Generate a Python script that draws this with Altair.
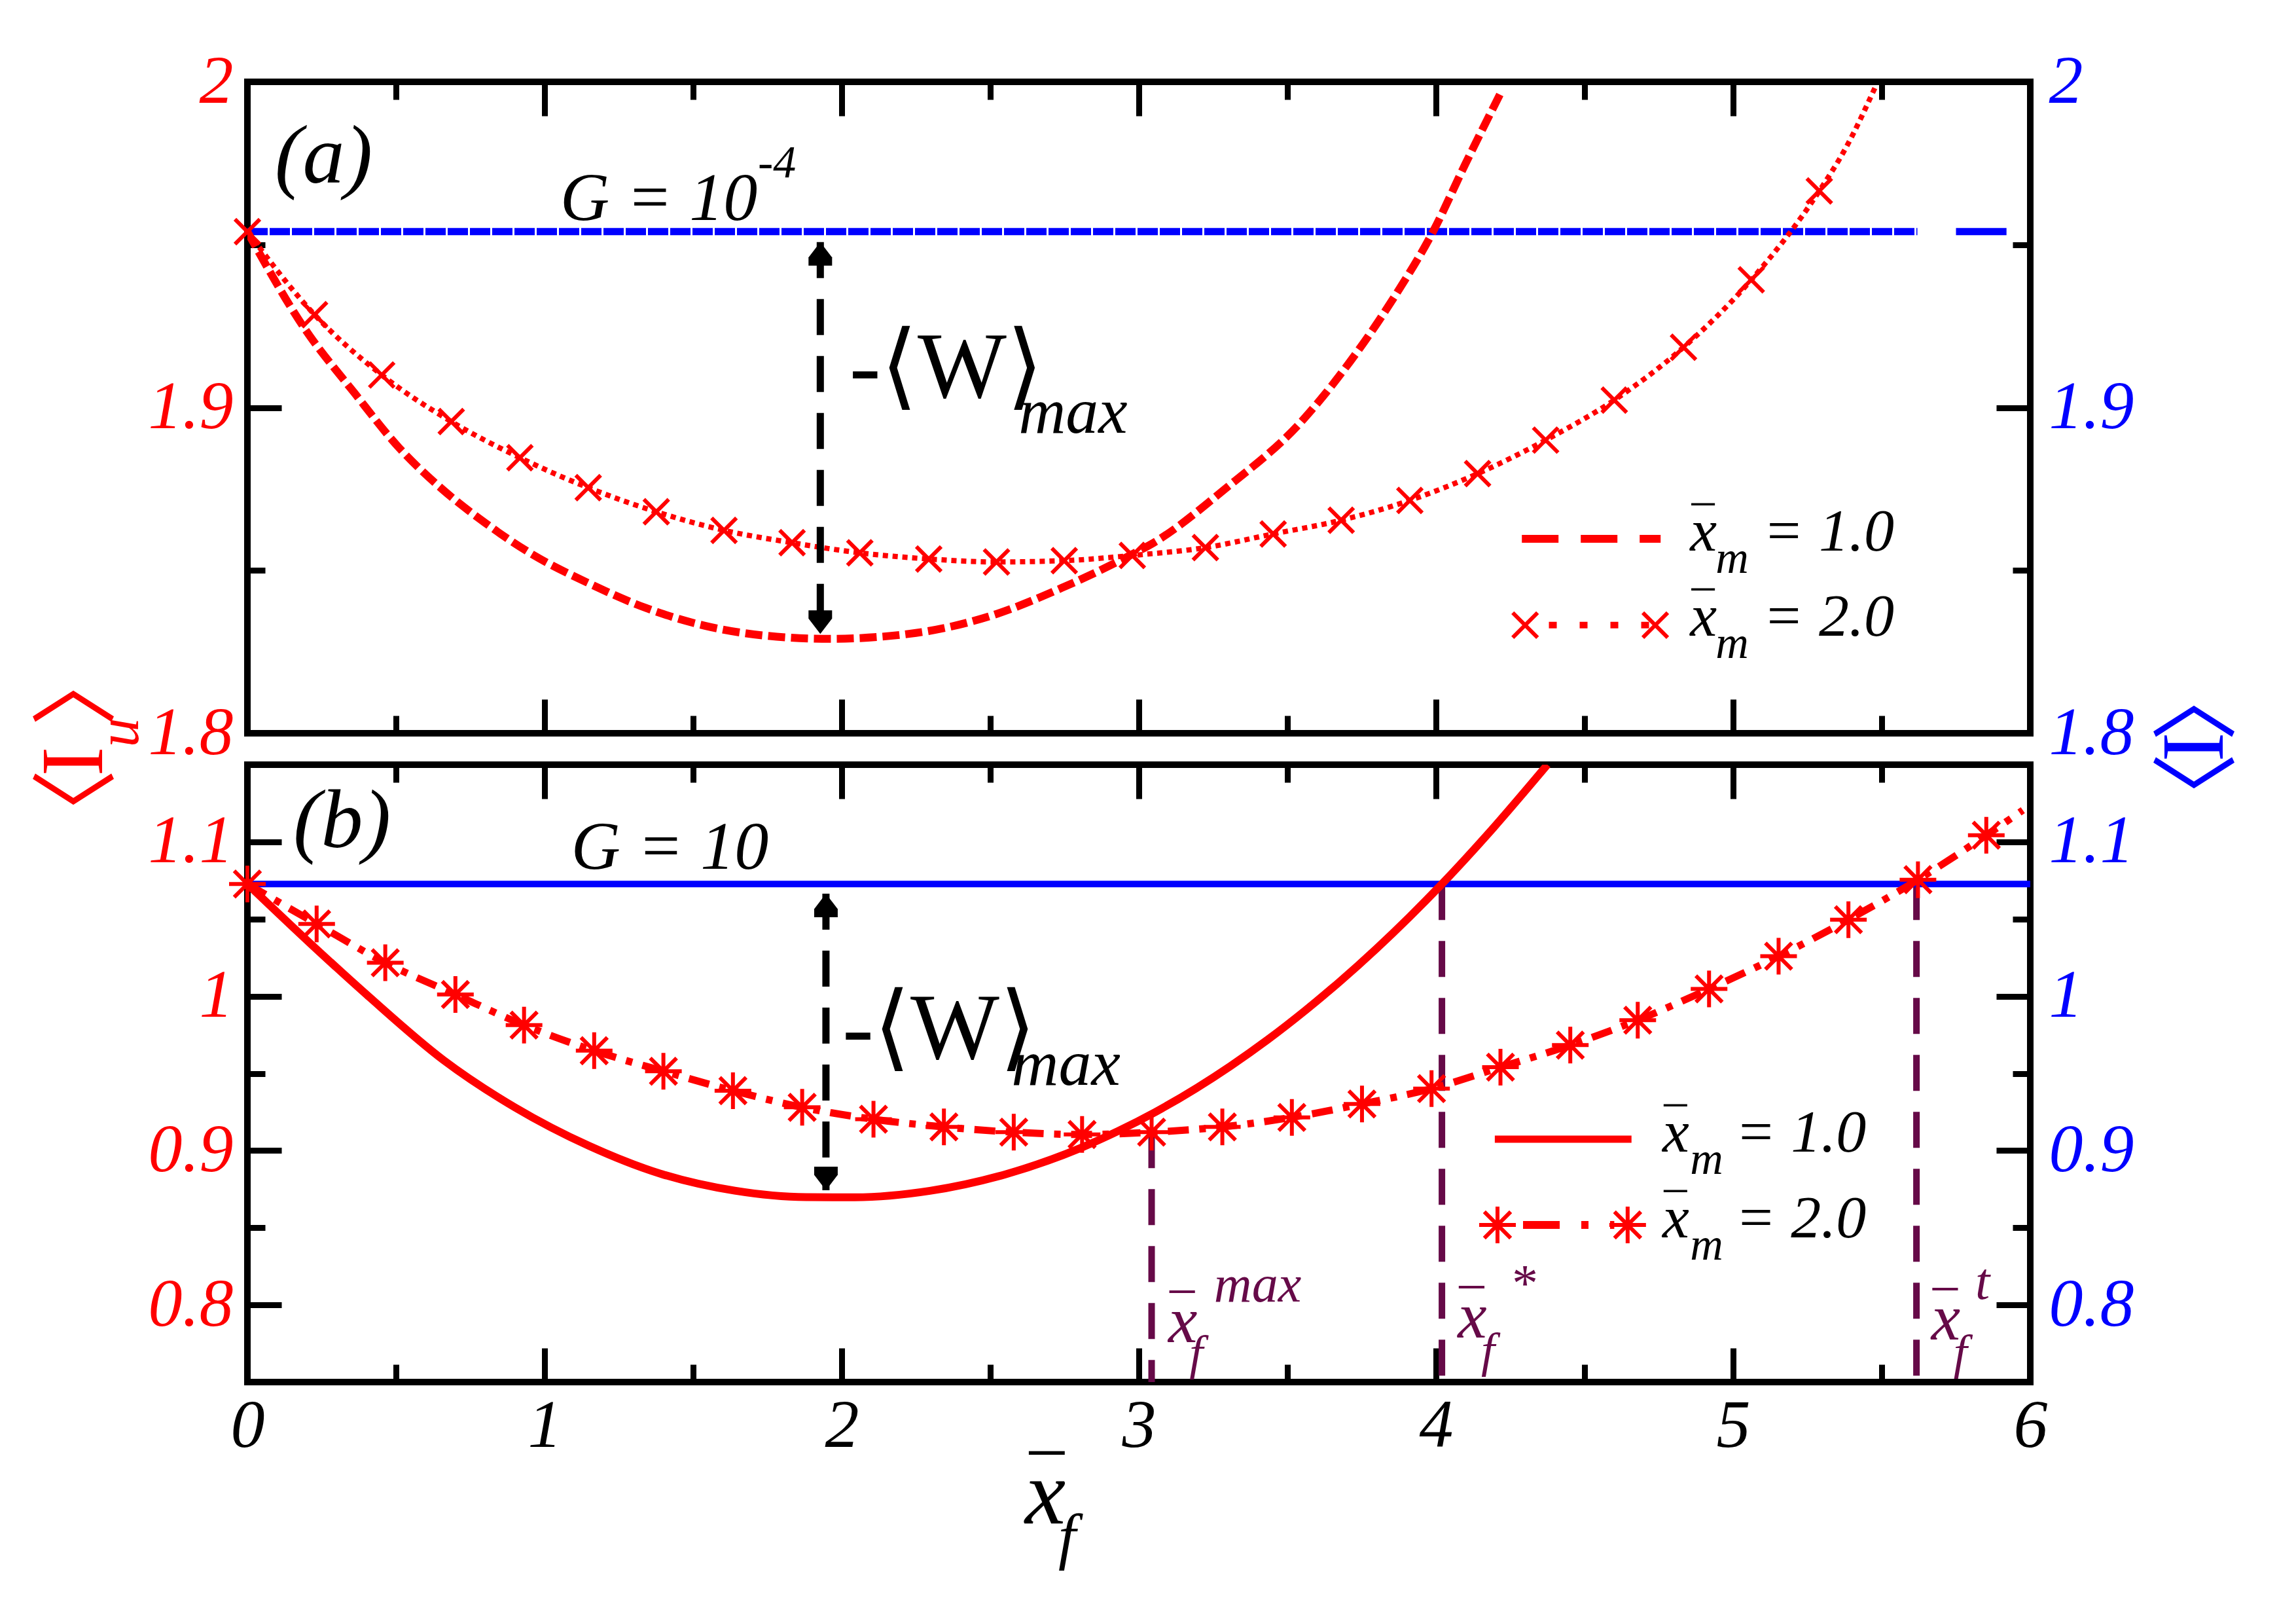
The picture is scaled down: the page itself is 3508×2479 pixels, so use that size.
import altair as alt
import pandas as pd

# ---------------- values ----------------
X_MAJOR = [0, 1, 2, 3, 4, 5, 6]
X_MINOR = [0.5, 1.5, 2.5, 3.5, 4.5, 5.5]

# panel (a)  G = 10^-4
A_Y_MAJOR = [1.8, 1.9, 2.0]
A_Y_MINOR = [1.85, 1.95]
A_I = 1.954
A_BLUE_SEG = [[0.0, 5.62], [5.75, 5.92]]
A_XM1_X = [0.00, 0.19, 0.36, 0.51, 0.66, 0.80, 0.95, 1.15, 1.34, 1.54, 1.74, 1.96,
           2.25, 2.50, 2.74, 2.97, 3.05, 3.29, 3.54, 3.71, 3.86, 3.99, 4.10, 4.22]
A_XM1_Y = [1.954, 1.9246, 1.9045, 1.8877, 1.8746, 1.8646, 1.8554, 1.846, 1.8385, 1.833,
           1.830, 1.829, 1.8308, 1.836, 1.8446, 1.8546, 1.8585, 1.875, 1.895, 1.914,
           1.934, 1.954, 1.975, 1.997]
A_XM2_X = [0.000, 0.226, 0.452, 0.686, 0.917, 1.147, 1.376, 1.604, 1.833, 2.061, 2.293,
           2.521, 2.749, 2.978, 3.224, 3.452, 3.681, 3.912, 4.140, 4.369, 4.600, 4.833,
           5.061, 5.290, 5.381, 5.479]
A_XM2_Y = [1.954, 1.9285, 1.910, 1.8957, 1.8846, 1.8754, 1.868, 1.8623, 1.8585, 1.8554,
           1.8535, 1.8526, 1.853, 1.8546, 1.857, 1.8612, 1.8654, 1.8715, 1.8797, 1.890,
           1.9023, 1.9185, 1.9392, 1.9665, 1.980, 1.9985]
A_N_MARKERS = 24
A_ARROW_X = 1.928
A_ARROW_Y = [1.9508, 1.8305]

# panel (b)  G = 10
B_Y_MAJOR = [0.8, 0.9, 1.0, 1.1]
B_Y_MINOR = [0.85, 0.95, 1.05]
B_I = 1.0727
B_XM1_X = [0.00, 0.21, 0.41, 0.66, 0.90, 1.15, 1.39, 1.64, 1.88, 2.044, 2.297, 2.551,
           2.802, 2.929, 3.055, 3.308, 3.434, 3.561, 3.674, 3.80, 3.91, 4.02, 4.18, 4.375]
B_XM1_Y = [1.0727, 1.0345, 0.9995, 0.9586, 0.928, 0.903, 0.885, 0.874, 0.8698, 0.8697,
           0.8739, 0.8846, 0.9015, 0.9125, 0.9249, 0.9547, 0.9719, 0.9909, 1.0091, 1.0309,
           1.0512, 1.0727, 1.1062, 1.150]
B_XM2_X = [0.000, 0.233, 0.464, 0.700, 0.931, 1.167, 1.400, 1.634, 1.867, 2.107, 2.344,
           2.579, 2.809, 3.043, 3.281, 3.515, 3.751, 3.985, 4.217, 4.452, 4.679, 4.919,
           5.153, 5.388, 5.622, 5.852, 5.975]
B_XM2_Y = [1.0727, 1.0468, 1.0217, 1.0011, 0.9813, 0.9647, 0.9514, 0.9388, 0.928, 0.9203,
           0.9153, 0.9119, 0.9104, 0.9119, 0.9153, 0.9215, 0.9302, 0.9401, 0.954, 0.9683,
           0.9845, 1.0047, 1.0259, 1.0496, 1.0755, 1.1043, 1.1205]
B_N_MARKERS = 26
B_ARROW_X = 1.947
B_ARROW_Y = [1.0664, 0.8743]
B_XF_X = [3.043, 4.02, 5.617]
B_XF_TOP = [0.9119, 1.0727, 1.0727]
B_XF_BOTTOM = 0.75

LEGEND_LABELS = ["= 1.0", "= 2.0"]

# ---------------- styling ----------------
FONT = "'Liberation Serif', 'Times New Roman', Times, 'DejaVu Serif', serif"
BRACKET_FONT = "'Noto Sans CJK JP', 'Noto Sans CJK SC', sans-serif"
RED, BLUE, PURPLE, BLACK = "#ff0000", "#0000ff", "#660a48", "#000000"
W, HA, HB = 2724, 995, 943
DA = [1.8, 2.0]
DB = [0.75, 1.15]
XSHAPE = "M-1,-1L1,1M-1,1L1,-1"
STAR = "M0,-1L0,1M-1,0L1,0M-0.72,-0.72L0.72,0.72M-0.72,0.72L0.72,-0.72"
UP = "M0,0L1,1.3L1,2L-1,2L-1,1.3Z"
DOWN = "M0,0L1,-1.3L1,-2L-1,-2L-1,-1.3Z"
XSIZE, XSTROKE = 1444, 6


def sx():
    return alt.Scale(domain=[0, 6], nice=False, zero=False)


def sy(dom):
    return alt.Scale(domain=dom, nice=False, zero=False)


def ax(orient, values, size, labels=False, color=BLACK, pad=16):
    kw = dict(orient=orient, values=values, tickSize=size, offset=-size, domain=False,
              grid=False, ticks=True, tickColor=BLACK, tickWidth=9, labels=labels, title=None)
    if labels:
        kw.update(labelFont=FONT, labelFontSize=104, labelFontStyle="italic",
                  labelColor=color, labelPadding=pad, labelFlush=False,
                  labelOverlap=False, format="~g")
    return alt.Axis(**kw)


def X(field, axis=None):
    return alt.X(field, type="quantitative", scale=sx(), axis=axis)


def Y(field, dom, axis=None):
    return alt.Y(field, type="quantitative", scale=sy(dom), axis=axis)


def dtext(texts, xs, ys, dom, size, style="italic", color=BLACK):
    df = pd.DataFrame({"x": xs, "y": ys, "t": texts})
    return alt.Chart(df).mark_text(font=FONT, fontSize=size, fontStyle=style, color=color,
                                   align="left", baseline="alphabetic").encode(
        x=X("x"), y=Y("y", dom), text="t:N")


def ptext(text, x, y, size, style="italic", color=BLACK, angle=0, align="left", font=FONT):
    return alt.Chart(pd.DataFrame({"t": [text]})).mark_text(
        font=font, fontSize=size, fontStyle=style, color=color, align=align,
        baseline="alphabetic", angle=angle).encode(
        x=alt.value(x), y=alt.value(y), text="t:N")


def hrule(x0, x1, y, dom, color, width, dash=None):
    kw = dict(color=color, strokeWidth=width)
    if dash:
        kw["strokeDash"] = dash
    df = pd.DataFrame({"x0": [x0], "x1": [x1], "y": [y]})
    return alt.Chart(df).mark_rule(**kw).encode(x=X("x0"), x2="x1:Q", y=Y("y", dom))


def points(xs, ys, dom, shape, size, width, filled=False, color=RED):
    df = pd.DataFrame({"x": xs, "y": ys})
    return alt.Chart(df).mark_point(shape=shape, size=size, strokeWidth=width, color=color,
                                    filled=filled, opacity=1).encode(
        x=X("x"), y=Y("y", dom))


def arrow(xv, yv, dom):
    df = pd.DataFrame({"x": [xv], "y0": [yv[0]], "y1": [yv[1]]})
    shaft = alt.Chart(df).mark_rule(color=BLACK, strokeWidth=11, strokeDash=[55, 32]).encode(
        x=X("x"), y=Y("y0", dom), y2="y1:Q")
    up = points([xv], [yv[0]], dom, UP, 1296, 0, True, BLACK)
    down = points([xv], [yv[1]], dom, DOWN, 1296, 0, True, BLACK)
    return [shaft, up, down]


# ---------------- panel (a) ----------------
a_l1 = alt.Chart(pd.DataFrame({"x": A_XM1_X, "y": A_XM1_Y})).mark_line(
    color=RED, strokeWidth=12, strokeDash=[26, 9], interpolate="monotone", clip=True
).encode(x=X("x", ax("bottom", X_MAJOR, 52)),
         y=Y("y", DA, ax("left", A_Y_MAJOR, 52, True, RED, 22)))
a_l2 = alt.Chart(pd.DataFrame({"x": A_XM2_X, "y": A_XM2_Y})).mark_line(
    color=RED, strokeWidth=8, strokeDash=[8, 7], interpolate="monotone", clip=True
).encode(x=X("x", ax("bottom", X_MINOR, 27)),
         y=Y("y", DA, ax("left", A_Y_MINOR, 27)))
a_mk = alt.Chart(pd.DataFrame({"x": A_XM2_X[:A_N_MARKERS], "y": A_XM2_Y[:A_N_MARKERS]})).mark_point(
    shape=XSHAPE, size=XSIZE, strokeWidth=XSTROKE, color=RED, filled=False, opacity=1
).encode(x=X("x", ax("top", X_MAJOR, 52)),
         y=Y("y", DA, ax("right", A_Y_MAJOR, 52, True, BLUE, 28)))
a_b1 = alt.Chart(pd.DataFrame({"x0": [A_BLUE_SEG[0][0]], "x1": [A_BLUE_SEG[0][1]], "y": [A_I]})).mark_rule(
    color=BLUE, strokeWidth=11, strokeDash=[31, 3]
).encode(x=X("x0", ax("top", X_MINOR, 27)), x2="x1:Q",
         y=Y("y", DA, ax("right", A_Y_MINOR, 27)))
a_b2 = hrule(A_BLUE_SEG[1][0], A_BLUE_SEG[1][1], A_I, DA, BLUE, 11)

a_layers = [a_b1, a_b2, a_l1, a_l2, a_mk] + arrow(A_ARROW_X, A_ARROW_Y, DA) + [
    # legend
    hrule(4.289, 4.756, 1.8597, DA, RED, 12, [56, 34]),
    hrule(4.38, 4.72, 1.8332, DA, RED, 10, [12, 35]),
    points([4.30, 4.738], [1.8332, 1.8332], DA, XSHAPE, XSIZE, XSTROKE),
    dtext(["x", "x"], [4.855, 4.855], [1.856, 1.830], DA, 92),
    dtext(["‾", "‾"], [4.865, 4.865], [1.856, 1.830], DA, 92, "normal"),
    dtext(["m", "m"], [4.941, 4.941], [1.8492, 1.8231], DA, 70),
    dtext(LEGEND_LABELS, [5.101, 5.101], [1.856, 1.830], DA, 92),
    # annotations
    dtext(["(a)"], [0.092], [1.969], DA, 128),
    dtext(["G = 10"], [1.053], [1.9576], DA, 104),
    dtext(["-4"], [1.718], [1.9707], DA, 70),
    dtext(["-⟨W⟩"], [2.026], [1.9031], DA, 144, "normal"),
    dtext(["max"], [2.595], [1.8923], DA, 100),
    # left title  <I_u>
    ptext("〈", -215, 1116, 133, "normal", RED, 270, "center", BRACKET_FONT),
    ptext("I", -222, 1038, 136, "normal", RED, 270, "center"),
    ptext("u", -167, 994, 90, "italic", RED, 270, "center"),
    ptext("〉", -215, 918, 133, "normal", RED, 270, "center", BRACKET_FONT),
    # right title  <I>
    ptext("〈", 3025, 1091, 133, "normal", BLUE, 270, "center", BRACKET_FONT),
    ptext("I", 3018, 1016, 136, "normal", BLUE, 270, "center"),
    ptext("〉", 3025, 941, 133, "normal", BLUE, 270, "center", BRACKET_FONT),
]
panel_a = alt.layer(*a_layers).properties(width=W, height=HA).resolve_axis(
    x="independent", y="independent")

# ---------------- panel (b) ----------------
b_l1 = alt.Chart(pd.DataFrame({"x": B_XM1_X, "y": B_XM1_Y})).mark_line(
    color=RED, strokeWidth=12, interpolate="monotone", clip=True
).encode(x=X("x", ax("bottom", X_MAJOR, 52, True, BLACK, 16)),
         y=Y("y", DB, ax("left", B_Y_MAJOR, 52, True, RED, 22)))
b_l2 = alt.Chart(pd.DataFrame({"x": B_XM2_X, "y": B_XM2_Y})).mark_line(
    color=RED, strokeWidth=11, strokeDash=[32, 16, 10, 16], interpolate="monotone", clip=True
).encode(x=X("x", ax("bottom", X_MINOR, 27)),
         y=Y("y", DB, ax("left", B_Y_MINOR, 27)))
b_mk = alt.Chart(pd.DataFrame({"x": B_XM2_X[:B_N_MARKERS], "y": B_XM2_Y[:B_N_MARKERS]})).mark_point(
    shape=STAR, size=3136, strokeWidth=6, color=RED, filled=False, opacity=1
).encode(x=X("x", ax("top", X_MAJOR, 52)),
         y=Y("y", DB, ax("right", B_Y_MAJOR, 52, True, BLUE, 28)))
b_b1 = alt.Chart(pd.DataFrame({"x0": [0.0], "x1": [6.0], "y": [B_I]})).mark_rule(
    color=BLUE, strokeWidth=10
).encode(x=X("x0", ax("top", X_MINOR, 27)), x2="x1:Q",
         y=Y("y", DB, ax("right", B_Y_MINOR, 27)))
b_xf = alt.Chart(pd.DataFrame({"x": B_XF_X, "y0": B_XF_TOP, "y1": [B_XF_BOTTOM] * 3})).mark_rule(
    color=PURPLE, strokeWidth=10, strokeDash=[55, 32]
).encode(x=X("x"), y=Y("y0", DB), y2="y1:Q")

b_layers = [b_xf, b_b1, b_l1, b_l2, b_mk] + arrow(B_ARROW_X, B_ARROW_Y, DB) + [
    # legend
    hrule(4.198, 4.658, 0.9074, DB, RED, 11),
    hrule(4.293, 4.60, 0.8518, DB, RED, 12, [56, 33, 11, 33]),
    points([4.207, 4.645], [0.8518, 0.8518], DB, STAR, 3136, 6),
    dtext(["x", "x"], [4.762, 4.762], [0.8993, 0.8437], DB, 92),
    dtext(["‾", "‾"], [4.772, 4.772], [0.8993, 0.8437], DB, 92, "normal"),
    dtext(["m", "m"], [4.855, 4.855], [0.8849, 0.8293], DB, 70),
    dtext(LEGEND_LABELS, [5.007, 5.007], [0.8993, 0.8437], DB, 92),
    # annotations
    dtext(["(b)"], [0.154], [1.0966], DB, 128),
    dtext(["G = 10"], [1.09], [1.0826], DB, 104),
    dtext(["-⟨W⟩"], [2.002], [0.9595], DB, 144, "normal"),
    dtext(["max"], [2.571], [0.9426], DB, 100),
    # purple labels
    dtext(["x", "x", "x"], [3.099, 4.073, 5.667], [0.7759, 0.7788, 0.7775], DB, 100, "italic", PURPLE),
    dtext(["‾", "‾", "‾"], [3.109, 4.083, 5.677], [0.7759, 0.7788, 0.7775], DB, 100, "normal", PURPLE),
    dtext(["f", "f", "f"], [3.17, 4.152, 5.742], [0.7585, 0.760, 0.759], DB, 75, "italic", PURPLE),
    dtext(["max", "*", "t"], [3.253, 4.247, 5.815], [0.8022, 0.8026, 0.804], DB, 80, "italic", PURPLE),
    # x title
    ptext("x", 1188, 1159, 140),
    ptext("‾", 1198, 1159, 140, "normal"),
    ptext("f", 1239, 1211, 96),
]
panel_b = alt.layer(*b_layers).properties(width=W, height=HB).resolve_axis(
    x="independent", y="independent")

chart = alt.vconcat(panel_a, panel_b, spacing=48, bounds="flush").properties(
    padding={"left": 34, "top": 60, "right": 10, "bottom": 10},
    background="white",
).configure_view(stroke=BLACK, strokeWidth=10)

chart.save("out.html", embed_options={"renderer": "svg", "actions": False})
